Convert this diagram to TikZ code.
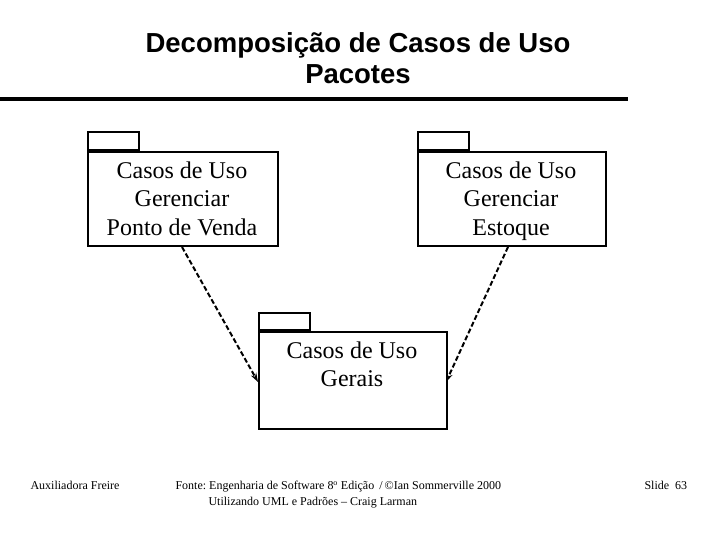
\documentclass[tikz,border=0pt]{standalone}
\usepackage{fontspec}
\setmainfont{Liberation Serif}
\newfontfamily\titlefont{Liberation Sans}
\usetikzlibrary{arrows.meta}
\frenchspacing
\begin{document}
\begin{tikzpicture}[x=1pt,y=-1pt,
  pkgbody/.style={draw,line width=1.6pt,minimum width=#1,minimum height=94pt,anchor=north west,inner sep=0pt},
  tabbox/.style={draw,line width=1.6pt,minimum width=51pt,minimum height=18pt,anchor=south west,inner sep=0pt},
  pkgtext/.style={font=\fontsize{24}{28.5}\selectfont,align=center,anchor=north},
  dep/.style={line width=2pt,dash pattern=on 5pt off 2.5pt,-{Stealth[length=9pt,width=6pt]}},
  foot/.style={font=\fontsize{12}{15.5}\selectfont,anchor=north west,align=left}]
\useasboundingbox (0,0) rectangle (720,540);
% title
\node[font=\titlefont\bfseries\fontsize{27.5}{31}\selectfont,align=center] (title) at (358,58) {Decomposição de Casos de Uso\\Pacotes};
\draw[line width=4pt] (0,99) -- (628,99);
% package 1
\node[pkgbody=190pt] (p1) at (87,151) {};
\node[tabbox] (t1) at (87,151) {};
\node[pkgtext] (l1) at (182,158) {Casos de Uso\\Gerenciar\\Ponto de Venda};
% package 2
\node[pkgbody=188pt] (p2) at (417,151) {};
\node[tabbox] (t2) at (417,151) {};
\node[pkgtext] (l2) at (511,158) {Casos de Uso\\Gerenciar\\Estoque};
% package 3
\node[pkgbody=188pt,minimum height=97pt] (p3) at (258,331) {};
\node[tabbox,minimum height=17pt] (t3) at (258,331) {};
\node[pkgtext] (l3) at (352,338) {Casos de Uso\\Gerais};
% dependencies
\coordinate (s1) at (182,247);
\coordinate (e1) at (258,382);
\coordinate (s2) at (508,247);
\coordinate (e2) at (446,382);
\draw[dep] (s1) -- (e1);
\draw[dep] (s2) -- (e2);
% footer
\node[foot] (f1) at (27,478) {Auxiliadora Freire};
\node[foot] (f2) at (172,478) {Fonte: Engenharia de Software 8\textsuperscript{o} Edição \,/\,©Ian Sommerville 2000\\\hspace*{33pt}Utilizando UML e Padrões – Craig Larman};
\node[foot] (f3) at (641,478) {Slide \ 63};
\end{tikzpicture}
\end{document}
